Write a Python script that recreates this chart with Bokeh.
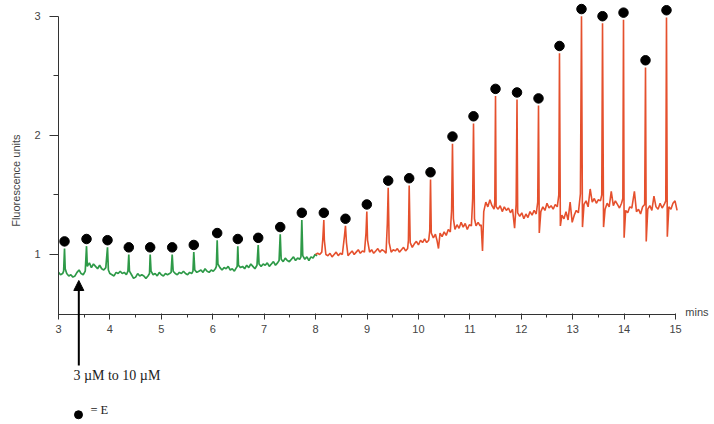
from bokeh.plotting import figure
from bokeh.models import Range1d, LinearAxis, FixedTicker, Arrow, NormalHead
from bokeh.core.properties import value
from bokeh.embed import file_html
from bokeh.resources import INLINE
import math

# ---------------- data ----------------
# green trace: 3 uM phase (time in mins, fluorescence units)
green_t = [3.00, 3.04, 3.08, 3.10, 3.117, 3.13, 3.16, 3.20, 3.24, 3.28, 3.32, 3.36, 3.40, 3.44, 3.48, 3.52,
           3.545, 3.56, 3.60, 3.64, 3.68, 3.72, 3.76, 3.80, 3.84, 3.88, 3.92, 3.953, 3.97, 4.00, 4.04, 4.08,
           4.12, 4.16, 4.20, 4.24, 4.28, 4.32, 4.35, 4.367, 4.38, 4.42, 4.46, 4.50, 4.54, 4.58, 4.62, 4.66,
           4.70, 4.74, 4.77, 4.783, 4.80, 4.84, 4.88, 4.92, 4.96, 5.00, 5.04, 5.08, 5.12, 5.16, 5.19, 5.211,
           5.23, 5.27, 5.31, 5.35, 5.39, 5.43, 5.47, 5.51, 5.55, 5.59, 5.615, 5.631, 5.65, 5.69, 5.73, 5.77,
           5.81, 5.85, 5.89, 5.93, 5.97, 6.01, 6.05, 6.07, 6.086, 6.10, 6.14, 6.18, 6.22, 6.26, 6.30, 6.34,
           6.38, 6.42, 6.46, 6.475, 6.487, 6.50, 6.54, 6.58, 6.62, 6.66, 6.70, 6.74, 6.78, 6.82, 6.86, 6.884,
           6.90, 6.94, 6.98, 7.02, 7.06, 7.10, 7.14, 7.18, 7.22, 7.26, 7.29, 7.312, 7.33, 7.37, 7.41, 7.45,
           7.49, 7.53, 7.57, 7.61, 7.65, 7.69, 7.715, 7.732, 7.75, 7.79, 7.83, 7.87, 7.91, 7.95, 7.99, 8.03]
green_v = [0.85, 0.83, 0.84, 0.86, 1.05, 0.88, 0.84, 0.82, 0.83, 0.81, 0.82, 0.85, 0.87, 0.84, 0.83, 0.86,
           1.07, 0.90, 0.93, 0.89, 0.92, 0.90, 0.88, 0.91, 0.88, 0.87, 0.89, 1.06, 0.87, 0.84, 0.83, 0.82,
           0.85, 0.84, 0.86, 0.84, 0.85, 0.83, 0.86, 1.00, 0.86, 0.83, 0.80, 0.81, 0.84, 0.82, 0.83, 0.82,
           0.80, 0.82, 0.84, 1.00, 0.86, 0.83, 0.84, 0.82, 0.85, 0.83, 0.82, 0.84, 0.83, 0.84, 0.85, 1.00,
           0.86, 0.84, 0.83, 0.85, 0.84, 0.86, 0.84, 0.83, 0.85, 0.84, 0.86, 1.02, 0.87, 0.85, 0.86, 0.87,
           0.85, 0.88, 0.86, 0.85, 0.87, 0.86, 0.88, 0.90, 1.12, 0.92, 0.89, 0.87, 0.89, 0.88, 0.90, 0.87,
           0.88, 0.86, 0.89, 0.90, 1.07, 0.91, 0.89, 0.90, 0.88, 0.91, 0.89, 0.92, 0.90, 0.88, 0.91, 1.08,
           0.92, 0.90, 0.92, 0.91, 0.93, 0.90, 0.92, 0.94, 0.91, 0.93, 0.95, 1.17, 0.96, 0.94, 0.97, 0.95,
           0.94, 0.96, 0.98, 0.95, 0.97, 0.96, 0.98, 1.29, 0.99, 0.96, 0.98, 0.95, 0.98, 0.97, 1.00, 0.99]

# red trace: 10 uM phase
red_t = [8.00, 8.04, 8.08, 8.12, 8.14, 8.160, 8.17, 8.20, 8.24, 8.28, 8.32, 8.36, 8.40, 8.44, 8.48, 8.52,
         8.56, 8.581, 8.60, 8.63, 8.67, 8.71, 8.75, 8.79, 8.83, 8.87, 8.91, 8.95, 8.98, 8.996, 9.01, 9.05,
         9.09, 9.13, 9.17, 9.21, 9.25, 9.29, 9.33, 9.37, 9.395, 9.412, 9.43, 9.47, 9.51, 9.55, 9.59, 9.63,
         9.67, 9.71, 9.75, 9.79, 9.805, 9.820, 9.84, 9.88, 9.92, 9.96, 10.00, 10.04, 10.08, 10.12, 10.16, 10.20,
         10.22, 10.235, 10.25, 10.29, 10.33, 10.36, 10.39, 10.42, 10.46, 10.50, 10.54, 10.58, 10.62, 10.645, 10.662, 10.68,
         10.71, 10.75, 10.79, 10.83, 10.87, 10.91, 10.95, 10.99, 11.03, 11.055, 11.071, 11.09, 11.12, 11.16, 11.20, 11.22,
         11.246, 11.27, 11.31, 11.35, 11.39, 11.43, 11.47, 11.485, 11.499, 11.51, 11.55, 11.59, 11.63, 11.67, 11.71, 11.75,
         11.79, 11.83, 11.87, 11.90, 11.917, 11.93, 11.97, 12.01, 12.05, 12.09, 12.13, 12.17, 12.21, 12.25, 12.29, 12.32,
         12.335, 12.35, 12.38, 12.42, 12.46, 12.50, 12.54, 12.58, 12.62, 12.66, 12.70, 12.73, 12.743, 12.76, 12.79, 12.83,
         12.87, 12.91, 12.95, 12.99, 13.03, 13.07, 13.11, 13.15, 13.171, 13.19, 13.22, 13.26, 13.30, 13.34, 13.38, 13.42,
         13.46, 13.50, 13.54, 13.565, 13.580, 13.60, 13.63, 13.67, 13.71, 13.75, 13.79, 13.83, 13.87, 13.91, 13.95, 13.975,
         13.988, 14.00, 14.03, 14.07, 14.11, 14.15, 14.20, 14.24, 14.28, 14.32, 14.36, 14.40, 14.416, 14.43, 14.46, 14.50,
         14.54, 14.58, 14.62, 14.66, 14.70, 14.74, 14.78, 14.81, 14.824, 14.84, 14.87, 14.91, 14.95, 14.99, 15.03]
red_v = [1.00, 1.01, 1.00, 1.02, 1.13, 1.29, 1.12, 1.00, 0.99, 1.01, 0.98, 1.00, 1.02, 0.99, 1.01, 1.00,
         1.15, 1.24, 1.10, 0.99, 1.01, 1.03, 1.00, 1.02, 1.04, 1.01, 1.03, 1.02, 1.18, 1.36, 1.12, 1.02,
         1.04, 1.01, 1.03, 1.05, 1.02, 1.04, 1.03, 1.01, 1.26, 1.56, 1.10, 1.02, 1.04, 1.03, 1.05, 1.02,
         1.04, 1.06, 1.03, 1.05, 1.12, 1.58, 1.10, 1.06, 1.09, 1.11, 1.08, 1.12, 1.10, 1.13, 1.10, 1.12,
         1.20, 1.63, 1.18, 1.14, 1.17, 1.12, 1.05, 1.18, 1.15, 1.19, 1.16, 1.21, 1.19, 1.37, 1.93, 1.30,
         1.21, 1.25, 1.22, 1.27, 1.23, 1.26, 1.21, 1.25, 1.24, 1.47, 2.10, 1.30, 1.24, 1.27, 1.24, 1.25,
         1.03, 1.36, 1.44, 1.40, 1.46, 1.41, 1.38, 1.44, 2.33, 1.40, 1.38, 1.41, 1.36, 1.40, 1.37, 1.39,
         1.35, 1.38, 1.22, 1.42, 2.30, 1.35, 1.32, 1.35, 1.30, 1.34, 1.31, 1.36, 1.33, 1.37, 1.34, 1.44,
         2.25, 1.18, 1.36, 1.40, 1.37, 1.43, 1.39, 1.41, 1.38, 1.42, 1.40, 1.50, 2.69, 1.24, 1.33, 1.30,
         1.36, 1.29, 1.44, 1.27, 1.33, 1.37, 1.35, 1.51, 3.00, 1.23, 1.42, 1.45, 1.40, 1.55, 1.44, 1.47,
         1.43, 1.46, 1.45, 1.50, 2.94, 1.23, 1.38, 1.43, 1.40, 1.53, 1.41, 1.45, 1.42, 1.39, 1.43, 1.47,
         2.97, 1.14, 1.37, 1.35, 1.40, 1.39, 1.53, 1.36, 1.38, 1.34, 1.40, 1.42, 2.57, 1.11, 1.38, 1.41,
         1.37, 1.49, 1.40, 1.38, 1.43, 1.39, 1.42, 1.45, 2.99, 1.15, 1.40, 1.38, 1.43, 1.45, 1.37]

# peaks marked with a dot (= E)
dot_t = [3.117, 3.545, 3.953, 4.367, 4.783, 5.211, 5.631, 6.086, 6.487, 6.884, 7.312, 7.732,
         8.160, 8.581, 8.996, 9.412, 9.820, 10.235, 10.662, 11.071, 11.499, 11.917, 12.335,
         12.743, 13.171, 13.580, 13.988, 14.416, 14.824]
dot_v = [1.11, 1.13, 1.12, 1.06, 1.06, 1.06, 1.08, 1.18, 1.13, 1.14, 1.23, 1.35,
         1.35, 1.30, 1.42, 1.62, 1.64, 1.69, 1.99, 2.16, 2.39, 2.36, 2.31,
         2.75, 3.06, 3.00, 3.03, 2.63, 3.05]

x_ticks = [3, 4, 5, 6, 7, 8, 9, 10, 11, 12, 13, 14, 15]
x_minor = [3.5, 4.5, 5.5, 6.5, 7.5, 8.5, 9.5, 10.5, 11.5, 12.5, 13.5, 14.5]
y_ticks = [1, 2, 3]
y_minor = [1.5, 2.5]

x_label = "mins"
y_label = "Fluorescence units"
arrow_text = "3 µM to 10 µM"
legend_text = "= E"

# ---------------- figure ----------------
p = figure(width=714, height=424, output_backend="svg", toolbar_location=None,
           x_range=Range1d(1.8720, 15.7577), y_range=Range1d(-0.4268, 3.1318),
           x_axis_location=None, y_axis_location=None, min_border=0)
p.outline_line_color = None
p.grid.visible = False
p.background_fill_color = "white"

axis_col = "#333333"
lab_col = "#444444"

xaxis = LinearAxis(fixed_location=0.5, bounds=(3, 15),
                   ticker=FixedTicker(ticks=x_ticks, minor_ticks=x_minor))
xaxis.axis_line_color = axis_col
xaxis.major_tick_line_color = axis_col
xaxis.minor_tick_line_color = axis_col
xaxis.major_tick_out = 5
xaxis.major_tick_in = 1
xaxis.minor_tick_out = 3
xaxis.minor_tick_in = 0
xaxis.major_label_standoff = 6
xaxis.major_label_text_font = "Liberation Sans"
xaxis.major_label_text_font_size = "11px"
xaxis.major_label_text_color = lab_col
p.add_layout(xaxis, "below")

yaxis = LinearAxis(fixed_location=3, bounds=(0.5, 3),
                   ticker=FixedTicker(ticks=y_ticks, minor_ticks=y_minor))
yaxis.axis_line_color = axis_col
yaxis.major_tick_line_color = axis_col
yaxis.minor_tick_line_color = axis_col
yaxis.major_tick_out = 9
yaxis.major_tick_in = 0
yaxis.minor_tick_out = 5
yaxis.minor_tick_in = 0
yaxis.major_label_standoff = 9
yaxis.major_label_text_font = "Liberation Sans"
yaxis.major_label_text_font_size = "11px"
yaxis.major_label_text_color = lab_col
p.add_layout(yaxis, "left")

# traces
p.line(green_t, green_v, line_color="#2e9a48", line_width=1.7)
p.line(red_t, red_v, line_color="#e5502d", line_width=1.6)
p.scatter(dot_t, dot_v, size=9.5, color="black")

# axis titles
p.text(x=[15.19], y=[0.52], text=[x_label], text_font=value("Liberation Sans"),
       text_font_size="11px", text_color=lab_col, text_baseline="middle", text_align="left")
p.text(x=[2.17], y=[1.62], text=[y_label], angle=math.pi / 2, text_font=value("Liberation Sans"),
       text_font_size="11px", text_color=lab_col, text_baseline="middle", text_align="center")

# concentration change arrow
p.add_layout(Arrow(end=NormalHead(size=10, fill_color="black", line_color="black"),
                   x_start=3.395, y_start=0.068, x_end=3.395, y_end=0.782,
                   line_width=2, line_color="black"))
p.text(x=[3.29], y=[-0.016], text=[arrow_text], text_font=value("Liberation Serif"),
       text_font_size="14px", text_color="#222222", text_baseline="middle", text_align="left")

# legend
p.scatter([3.389], [-0.345], size=8, color="black")
p.text(x=[3.62], y=[-0.305], text=[legend_text], text_font=value("Liberation Serif"),
       text_font_size="12.5px", text_color="#222222", text_baseline="middle", text_align="left")

open("out.html", "w").write(file_html(p, INLINE))
